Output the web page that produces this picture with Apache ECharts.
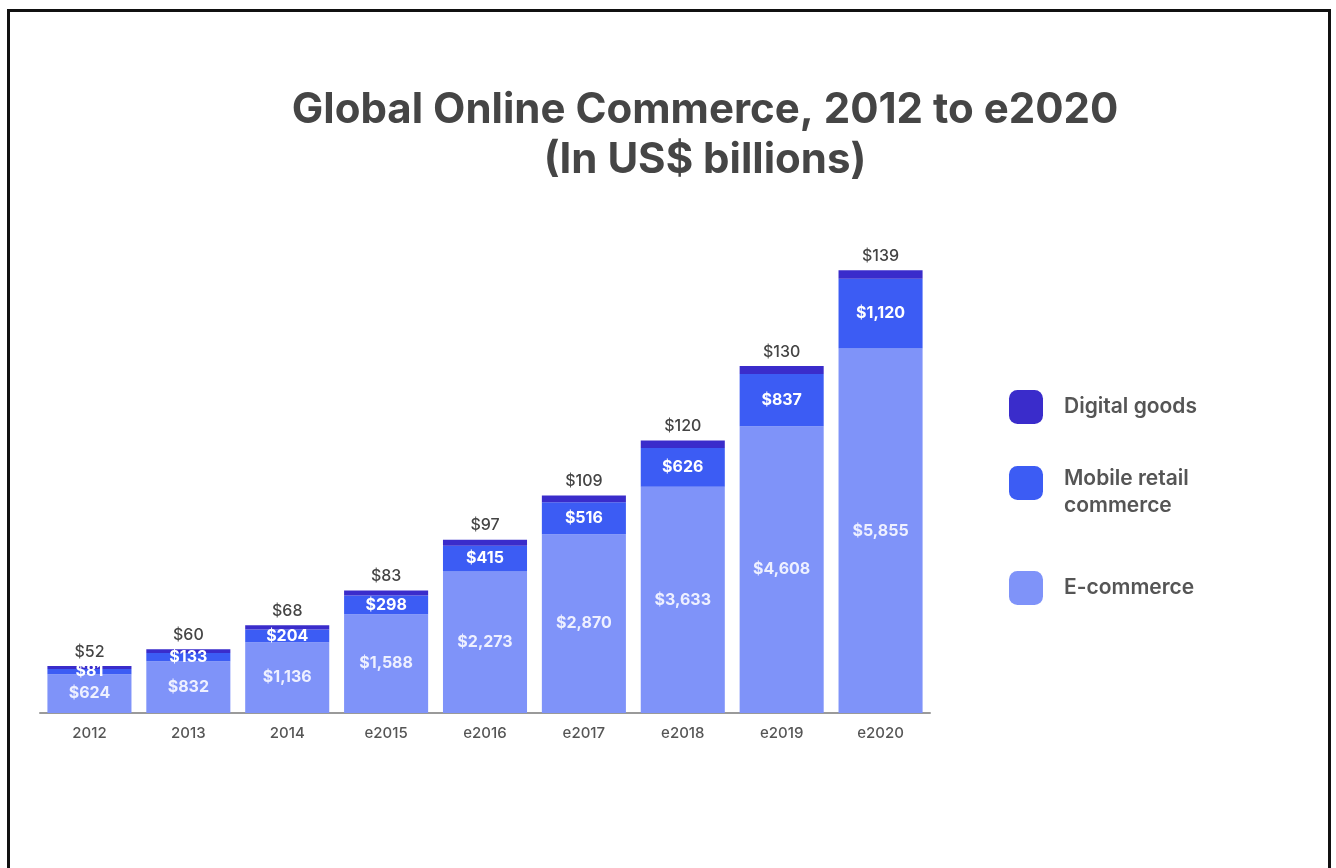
<!DOCTYPE html>
<html>
<head>
<meta charset="utf-8">
<script src="https://cdn.jsdelivr.net/npm/echarts@6/dist/echarts.min.js"></script>
<style>
  html, body { margin: 0; padding: 0; background: #fff; }
  #frame {
    position: absolute; left: 7px; top: 9px; width: 1324px; height: 870px;
    border-left: 3px solid #111; border-top: 3px solid #111; border-right: 3px solid #111;
    box-sizing: border-box;
  }
  #chart { position: absolute; left: 0; top: 0; width: 1336px; height: 868px; }
</style>
</head>
<body>
<div id="frame"></div>
<div id="chart"></div>
<script>
// Years shown along the axis
const years = ['2012', '2013', '2014', 'e2015', 'e2016', 'e2017', 'e2018', 'e2019', 'e2020'];
// Sales by segment, US$ billions
const ecommerce = [624, 832, 1136, 1588, 2273, 2870, 3633, 4608, 5855];
const mobileRetail = [81, 133, 204, 298, 415, 516, 626, 837, 1120];
const digitalGoods = [52, 60, 68, 83, 97, 109, 120, 130, 139];
// Legend entries, top to bottom
const legendNames = ['Digital goods', 'Mobile retail\ncommerce', 'E-commerce'];

const COLORS = {
  ecommerce: '#7f93f9',
  mobile: '#3c5cf4',
  digital: '#3a2ccb'
};
const FONT = 'Inter, Roboto, "Noto Sans", sans-serif';
const money = v => '$' + Number(v).toLocaleString('en-US');

// one legend block per entry so each can sit at its own height
const legendTops = [385, 442, 566];
const legends = legendNames.map((name, i) => ({
  orient: 'vertical',
  left: 1004, top: legendTops[i],
  itemWidth: 34, itemHeight: 34,
  icon: 'roundRect',
  selectedMode: false,
  data: [name],
  // the two-line entry gets a short spacer line so its text sits a little lower than the swatch
  formatter: n => n.indexOf('\n') >= 0
    ? '{s| }\n' + n.split('\n').map(l => '{t|' + l + '}').join('\n')
    : n,
  textStyle: {
    fontFamily: FONT, fontSize: 21, fontWeight: 600,
    color: '#555', lineHeight: 27,
    padding: [0, 0, 0, 16],
    rich: {
      s: { fontSize: 10, lineHeight: 18 },
      t: { fontFamily: FONT, fontSize: 21, fontWeight: 600, color: '#555', lineHeight: 27 }
    }
  }
}));

const chart = echarts.init(document.getElementById('chart'));
chart.setOption({
  backgroundColor: 'transparent',
  animation: false,
  title: {
    text: 'Global Online Commerce, 2012 to e2020\n(In US$ billions)',
    left: 700, textAlign: 'center', top: 80,
    textStyle: {
      fontFamily: FONT, fontWeight: 'bold', fontSize: 42,
      color: '#454545', lineHeight: 50
    }
  },
  legend: legends,
  grid: { left: 40, width: 890, top: 215, bottom: 155, containLabel: false },
  xAxis: {
    type: 'category',
    data: years,
    axisTick: { show: false },
    axisLine: { lineStyle: { color: '#9a9a9a', width: 2 } },
    axisLabel: {
      margin: 13, fontFamily: FONT, fontSize: 15, color: '#555', fontWeight: 500
    }
  },
  yAxis: {
    type: 'value', min: 0, max: 8000,
    show: false, splitLine: { show: false }
  },
  series: [
    {
      name: 'E-commerce', type: 'bar', stack: 'total', barCategoryGap: '15%',
      data: ecommerce,
      itemStyle: { color: COLORS.ecommerce },
      label: {
        show: true, position: 'inside', formatter: p => money(p.value),
        color: '#eef0ff', fontFamily: FONT, fontSize: 16, fontWeight: 'bold'
      }
    },
    {
      name: 'Mobile retail\ncommerce', type: 'bar', stack: 'total',
      data: mobileRetail,
      itemStyle: { color: COLORS.mobile },
      label: {
        show: true, position: 'inside', formatter: p => money(p.value),
        color: '#ffffff', fontFamily: FONT, fontSize: 16, fontWeight: 'bold'
      }
    },
    {
      name: 'Digital goods', type: 'bar', stack: 'total',
      data: digitalGoods,
      itemStyle: { color: COLORS.digital },
      label: {
        show: true, position: 'top', distance: 6, formatter: p => money(p.value),
        color: '#444', fontFamily: FONT, fontSize: 16, fontWeight: 500
      }
    }
  ]
});
</script>
</body>
</html>
